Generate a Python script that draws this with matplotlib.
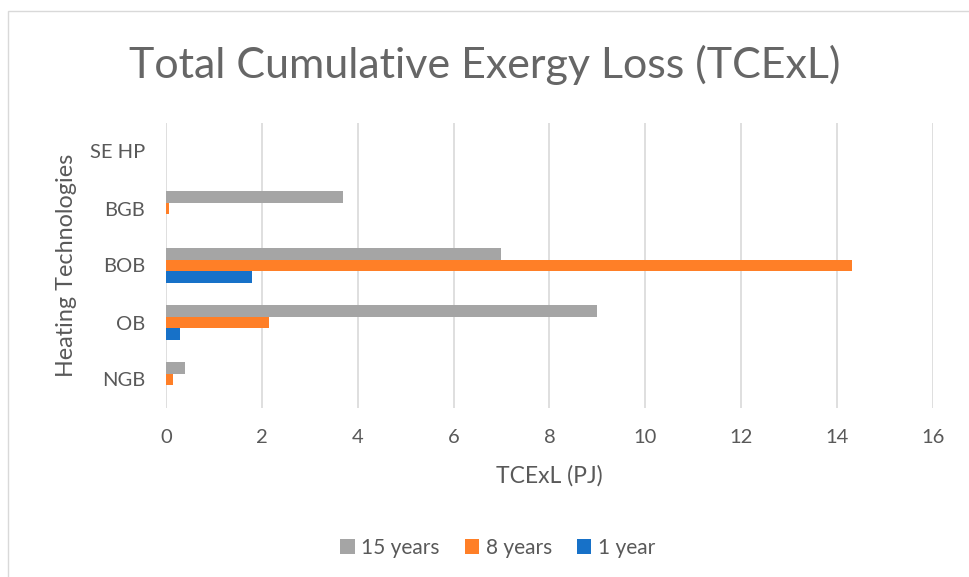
import matplotlib
matplotlib.use("Agg")
import matplotlib.pyplot as plt
import numpy as np
from matplotlib.patches import Rectangle

categories = ["NGB", "OB", "BOB", "BGB", "SE HP"]
y15 = [0.40, 8.99, 6.99, 3.69, 0.0]
y8 = [0.14, 2.15, 14.31, 0.07, 0.0]
y1 = [0.01, 0.29, 1.79, 0.01, 0.0]
xticks = [0, 2, 4, 6, 8, 10, 12, 14, 16]

plt.rcParams['font.family'] = ['Lato', 'DejaVu Sans']
txt = '#595959'

fig = plt.figure(figsize=(9.7, 5.77), dpi=100)
fig.patches.append(Rectangle((8/970, -0.1), 1.2, 1 - 11/577 + 0.1, transform=fig.transFigure,
                             fill=False, edgecolor='#D9D9D9', lw=1.0, zorder=0))
ax = fig.add_axes([166/970, (577-408)/577, (933-166)/970, (408-123)/577])

pos = np.arange(len(categories))
h = 0.21
ax.barh(pos + h, y15, height=h, color='#A5A5A5', label='15 years', zorder=3)
ax.barh(pos, y8, height=h, color='#FF7F27', label='8 years', zorder=3)
ax.barh(pos - h, y1, height=h, color='#1771C8', label='1 year', zorder=3)

ax.set_xlim(0, 16)
ax.set_ylim(-0.5, len(categories) - 0.5)
ax.set_xticks(xticks)
ax.set_xticklabels([str(t) for t in xticks])
ax.set_yticks(pos)
ax.set_yticklabels(categories)
ax.tick_params(axis='both', length=0, labelsize=14.5, colors=txt)
ax.tick_params(axis='x', pad=15)
ax.tick_params(axis='y', pad=15)
ax.grid(axis='x', color='#D9D9D9', lw=1.2, zorder=0)
for s in ax.spines.values():
    s.set_visible(False)

ax.set_xlabel('TCExL (PJ)', fontsize=16.5, color=txt, labelpad=14)
ax.set_ylabel('Heating Technologies', fontsize=16.8, color=txt, labelpad=9)
fig.text(0.5, 1 - 65/577, 'Total Cumulative Exergy Loss (TCExL)', fontsize=31, color='#666666',
         ha='center', va='center')

handles, labels = ax.get_legend_handles_labels()
leg = fig.legend(handles, labels, loc='center', bbox_to_anchor=(0.513, 1 - 548/577), ncol=3,
                 frameon=False, fontsize=15, handlelength=0.7, handleheight=0.7,
                 handletextpad=0.3, columnspacing=1.2)
for t in leg.get_texts():
    t.set_color(txt)

fig.savefig('out.png', dpi=100)
